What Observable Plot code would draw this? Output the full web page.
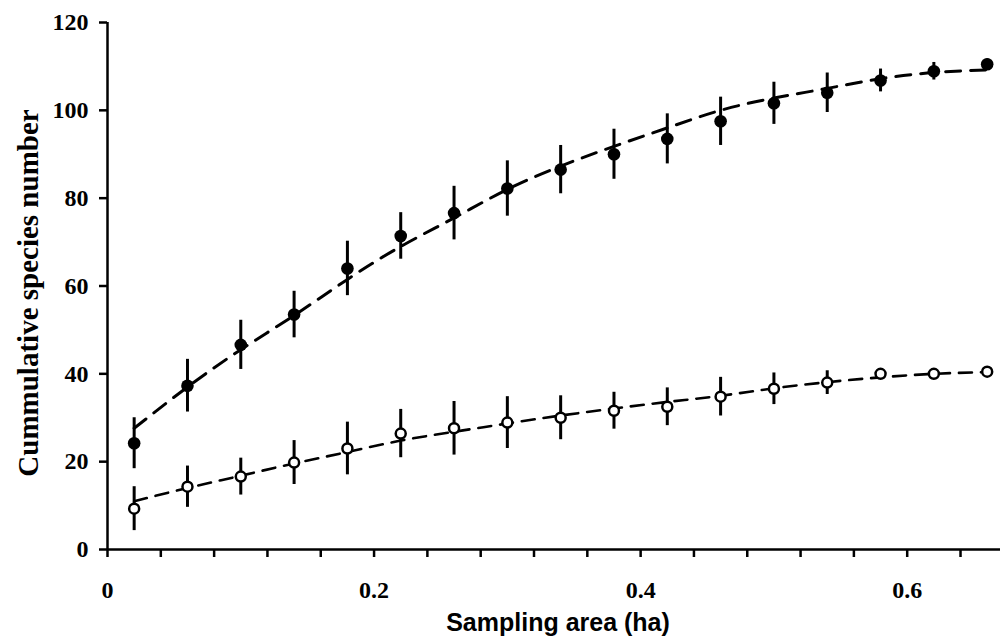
<!DOCTYPE html>
<html>
<head>
<meta charset="utf-8">
<script src="https://cdn.jsdelivr.net/npm/d3@7"></script>
<script src="https://cdn.jsdelivr.net/npm/@observablehq/plot@0.6"></script>
<style>
  html, body { margin: 0; padding: 0; background: #fff; }
  #chart { width: 1001px; height: 637px; }
</style>
</head>
<body>
<div id="chart"></div>
<script>
// Sampling area (ha)
const area = [0.02, 0.06, 0.10, 0.14, 0.18, 0.22, 0.26, 0.30, 0.34, 0.38, 0.42, 0.46, 0.50, 0.54, 0.58, 0.62, 0.66];

// Filled-circle series: mean cumulative species number and error
const filledMean = [24.2, 37.3, 46.6, 53.5, 64.0, 71.4, 76.6, 82.2, 86.5, 90.0, 93.5, 97.5, 101.6, 104.0, 106.8, 108.9, 110.5];
const filledErr  = [5.8, 6.0, 5.6, 5.3, 6.2, 5.3, 6.1, 6.3, 5.5, 5.7, 5.7, 5.5, 4.8, 4.5, 2.6, 2.0, 1.2];
const filledFit  = [27.6, 37.0, 45.5, 53.3, 61.5, 69.0, 75.5, 82.0, 87.3, 91.8, 96.0, 100.0, 102.8, 105.0, 107.2, 108.6, 109.2];

// Open-circle series
const openMean = [9.3, 14.3, 16.6, 19.8, 23.0, 26.4, 27.6, 28.9, 30.0, 31.6, 32.5, 34.8, 36.6, 38.0, 40.0, 40.0, 40.5];
const openErr  = [5.0, 4.7, 4.2, 5.0, 6.0, 5.5, 6.1, 5.9, 5.0, 4.2, 4.3, 4.4, 3.6, 2.7, 0.8, 0.8, 0.6];
const openFit  = [11.0, 14.0, 16.8, 19.6, 22.2, 24.8, 26.8, 28.7, 30.5, 32.1, 33.6, 35.0, 36.7, 38.1, 39.2, 40.0, 40.4];

// Axis ticks and labels
const yTicks = [0, 20, 40, 60, 80, 100, 120];
const xMinorTicks = [0, 0.04, 0.08, 0.12, 0.16, 0.2, 0.24, 0.28, 0.32, 0.36, 0.4, 0.44, 0.48, 0.52, 0.56, 0.6, 0.64];
const xLabelTicks = [0, 0.2, 0.4, 0.6];
const xTickLabels = ["0", "0.2", "0.4", "0.6"];
const xTitle = "Sampling area (ha)";
const yTitle = "Cummulative species number";

const filled = area.map((a, i) => ({x: a, y: filledMean[i], lo: filledMean[i] - filledErr[i], hi: filledMean[i] + filledErr[i], fit: filledFit[i]}));
const open = area.map((a, i) => ({x: a, y: openMean[i], lo: openMean[i] - openErr[i], hi: openMean[i] + openErr[i], fit: openFit[i]}));

const serif = "'Liberation Serif', 'Times New Roman', serif";
const sans = "'Liberation Sans', Arial, sans-serif";

const chart = Plot.plot({
  width: 1001,
  height: 637,
  marginLeft: 107,
  marginRight: 1,
  marginTop: 22,
  marginBottom: 88,
  x: {domain: [0, 0.67]},
  y: {domain: [0, 120]},
  style: {fontFamily: serif, background: "#fff", color: "#000", overflow: "visible"},
  marks: [
    Plot.axisY({ticks: yTicks, tickSize: 8, tickPadding: 11, strokeWidth: 2.5, fontSize: 24, fontWeight: "bold", fontFamily: serif, label: null}),
    Plot.axisX({ticks: xMinorTicks, tickSize: 8, strokeWidth: 2.5, tickFormat: () => "", label: null}),
    Plot.axisX({ticks: xLabelTicks, tickSize: 0, tickPadding: 31, fontSize: 24, fontWeight: "bold", fontFamily: serif,
      tickFormat: (d) => xTickLabels[xLabelTicks.indexOf(d)], label: null}),
    Plot.ruleY([0], {strokeWidth: 2.5}),
    Plot.ruleX([0], {strokeWidth: 2.5}),
    Plot.text([xTitle], {frameAnchor: "bottom", dx: 4, dy: 73, lineAnchor: "middle", fontSize: 25, fontWeight: "bold", fontFamily: sans}),
    Plot.text([yTitle], {frameAnchor: "left", textAnchor: "middle", rotate: -90, dx: -79, dy: 7, lineAnchor: "middle", fontSize: 29, fontWeight: "bold", fontFamily: serif}),
    // error bars
    Plot.ruleX(filled, {x: "x", y1: "lo", y2: "hi", strokeWidth: 3}),
    Plot.ruleX(open, {x: "x", y1: "lo", y2: "hi", strokeWidth: 3}),
    // fitted curves
    Plot.line(filled, {x: "x", y: "fit", curve: "natural", strokeWidth: 3, strokeDasharray: "15,10"}),
    Plot.line(open, {x: "x", y: "fit", curve: "natural", strokeWidth: 2.6, strokeDasharray: "13,9"}),
    // points
    Plot.dot(filled, {x: "x", y: "y", r: 6.3, fill: "#000", stroke: "none"}),
    Plot.dot(open, {x: "x", y: "y", r: 5, fill: "#fff", stroke: "#000", strokeWidth: 2.5})
  ]
});
document.getElementById("chart").appendChild(chart);
</script>
</body>
</html>
